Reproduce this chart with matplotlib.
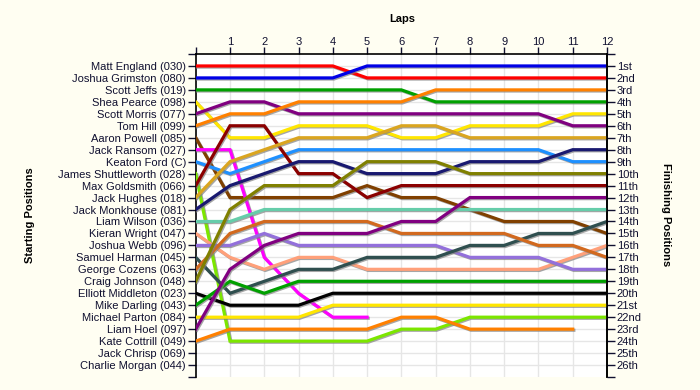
import numpy as np
import matplotlib
matplotlib.use("Agg")
import matplotlib.pyplot as plt
import matplotlib.patheffects as pe

plt.rcParams['font.family'] = ['Liberation Sans', 'DejaVu Sans']

nan = np.nan
laps = list(range(13))

# starting grid, top to bottom
drivers = [
    "Matt England (030)", "Joshua Grimston (080)", "Scott Jeffs (019)",
    "Shea Pearce (098)", "Scott Morris (077)", "Tom Hill (099)",
    "Aaron Powell (085)", "Jack Ransom (027)", "Keaton Ford (C)",
    "James Shuttleworth (028)", "Max Goldsmith (066)", "Jack Hughes (018)",
    "Jack Monkhouse (081)", "Liam Wilson (036)", "Kieran Wright (047)",
    "Joshua Webb (096)", "Samuel Harman (045)", "George Cozens (063)",
    "Craig Johnson (048)", "Elliott Middleton (023)", "Mike Darling (043)",
    "Michael Parton (084)", "Liam Hoel (097)", "Kate Cottrill (049)",
    "Jack Chrisp (069)", "Charlie Morgan (044)",
]

finish_labels = ["1st", "2nd", "3rd"] + [f"{n}th" for n in range(4, 21)] + \
                ["21st", "22nd", "23rd", "24th", "25th", "26th"]

# position at end of each lap (lap 0 = grid)
matt_england       = [1, 1, 1, 1, 1, 2, 2, 2, 2, 2, 2, 2, 2]
joshua_grimston    = [2, 2, 2, 2, 2, 1, 1, 1, 1, 1, 1, 1, 1]
scott_jeffs        = [3, 3, 3, 3, 3, 3, 3, 4, 4, 4, 4, 4, 4]
shea_pearce        = [4, 7, 7, 6, 6, 6, 7, 7, 6, 6, 6, 5, 5]
scott_morris       = [5, 4, 4, 5, 5, 5, 5, 5, 5, 5, 5, 6, 6]
tom_hill           = [6, 5, 5, 4, 4, 4, 4, 3, 3, 3, 3, 3, 3]
aaron_powell       = [7, 12, 12, 12, 12, 11, 12, 12, 13, 14, 14, 14, 15]
jack_ransom        = [8, 8, 17, 20, 22, 22, nan, nan, nan, nan, nan, nan, nan]
keaton_ford        = [9, 10, 9, 8, 8, 8, 8, 8, 8, 8, 8, 9, 9]
james_shuttleworth = [10, 24, 24, 24, 24, 24, 23, 23, 22, 22, 22, 22, 22]
max_goldsmith      = [11, 6, 6, 10, 10, 12, 11, 11, 11, 11, 11, 11, 11]
jack_hughes        = [12, 9, 8, 7, 7, 7, 6, 6, 7, 7, 7, 7, 7]
jack_monkhouse     = [13, 11, 10, 9, 9, 10, 10, 10, 9, 9, 9, 8, 8]
liam_wilson        = [14, 14, 13, 13, 13, 13, 13, 13, 13, 13, 13, 13, 13]
kieran_wright      = [15, 17, 18, 17, 17, 18, 18, 18, 18, 18, 18, 17, 16]
joshua_webb        = [16, 16, 15, 16, 16, 16, 16, 16, 17, 17, 17, 18, 18]
samuel_harman      = [17, 20, 19, 18, 18, 17, 17, 17, 16, 16, 15, 15, 14]
george_cozens      = [18, 15, 14, 14, 14, 14, 15, 15, 15, 15, 16, 16, 17]
craig_johnson      = [19, 13, 11, 11, 11, 9, 9, 9, 10, 10, 10, 10, 10]
elliott_middleton  = [20, 21, 21, 21, 20, 20, 20, 20, 20, 20, 20, 20, 20]
mike_darling       = [21, 19, 20, 19, 19, 19, 19, 19, 19, 19, 19, 19, 19]
michael_parton     = [22, 22, 22, 22, 21, 21, 21, 21, 21, 21, 21, 21, 21]
liam_hoel          = [23, 18, 16, 15, 15, 15, 14, 14, 12, 12, 12, 12, 12]
kate_cottrill      = [24, 23, 23, 23, 23, 23, 22, 22, 23, 23, 23, 23, nan]

series = [
    (matt_england, "#FF0000"), (joshua_grimston, "#0000E6"),
    (scott_jeffs, "#00A000"), (shea_pearce, "#FFE600"),
    (scott_morris, "#800080"), (tom_hill, "#FF8000"),
    (aaron_powell, "#804000"), (jack_ransom, "#FF00FF"),
    (keaton_ford, "#1E90FF"), (james_shuttleworth, "#7CE600"),
    (max_goldsmith, "#8B0000"), (jack_hughes, "#DAA520"),
    (jack_monkhouse, "#191970"), (liam_wilson, "#66CDAA"),
    (kieran_wright, "#FFA07A"), (joshua_webb, "#9370DB"),
    (samuel_harman, "#2F4F4F"), (george_cozens, "#D2691E"),
    (craig_johnson, "#808000"), (elliott_middleton, "#000000"),
    (mike_darling, "#00A000"), (michael_parton, "#FFE600"),
    (liam_hoel, "#800080"), (kate_cottrill, "#FF8000"),
]

txt = "#101030"

fig = plt.figure(figsize=(7, 3.9), dpi=100, facecolor="#FFFEF2")
ax = fig.add_axes([195.7 / 700, 1 - 377 / 390, (607 - 195.7) / 700, (377 - 54) / 390])
ax.set_facecolor("white")

shadow = [pe.SimpleLineShadow(offset=(0.8, -0.8), shadow_color="#808080", alpha=0.7),
          pe.Normal()]
for values, colour in series:
    ax.plot(laps, values, color=colour, lw=2.3, solid_joinstyle="miter",
            path_effects=shadow, zorder=3)

ax.set_xlim(0, 12)
ax.set_ylim(27, 0)

ax.xaxis.tick_top()
ax.set_xticks(range(1, 13))
ax.set_xticks([0], minor=True)
ax.set_yticks(range(1, 27))
ax.set_yticks([0, 27], minor=True)
ax.set_yticklabels(drivers)
ax.tick_params(axis="x", which="both", length=5, width=1, pad=0, labelsize=8, colors=txt)
ax.tick_params(axis="y", which="both", length=6, width=1, pad=1, labelsize=8, colors=txt)
ax.grid(True, which="major", color="#E6E6E6", lw=1, zorder=0)
ax.set_axisbelow(True)

for side in ["left", "top", "right"]:
    ax.spines[side].set_linewidth(1.2)
ax.spines["bottom"].set_visible(False)

ax2 = ax.twinx()
ax2.set_ylim(27, 0)
ax2.set_yticks(range(1, 27))
ax2.set_yticks([0, 27], minor=True)
ax2.set_yticklabels(finish_labels)
ax2.tick_params(axis="y", which="both", length=6, width=1, pad=1, labelsize=8, colors=txt)
for side in ["left", "top", "bottom"]:
    ax2.spines[side].set_visible(False)
ax2.spines["right"].set_linewidth(1.2)

fig.text(402 / 700, 1 - 19 / 390, "Laps", ha="center", va="center",
         fontsize=8, fontweight="bold")
fig.text(30 / 700, 1 - 215 / 390, "Starting Positions", ha="center", va="center",
         rotation=90, fontsize=8, fontweight="bold")
fig.text(666 / 700, 1 - 215 / 390, "Finishing Positions", ha="center", va="center",
         rotation=-90, fontsize=8, fontweight="bold")

fig.savefig("out.png", dpi=100, facecolor=fig.get_facecolor())
